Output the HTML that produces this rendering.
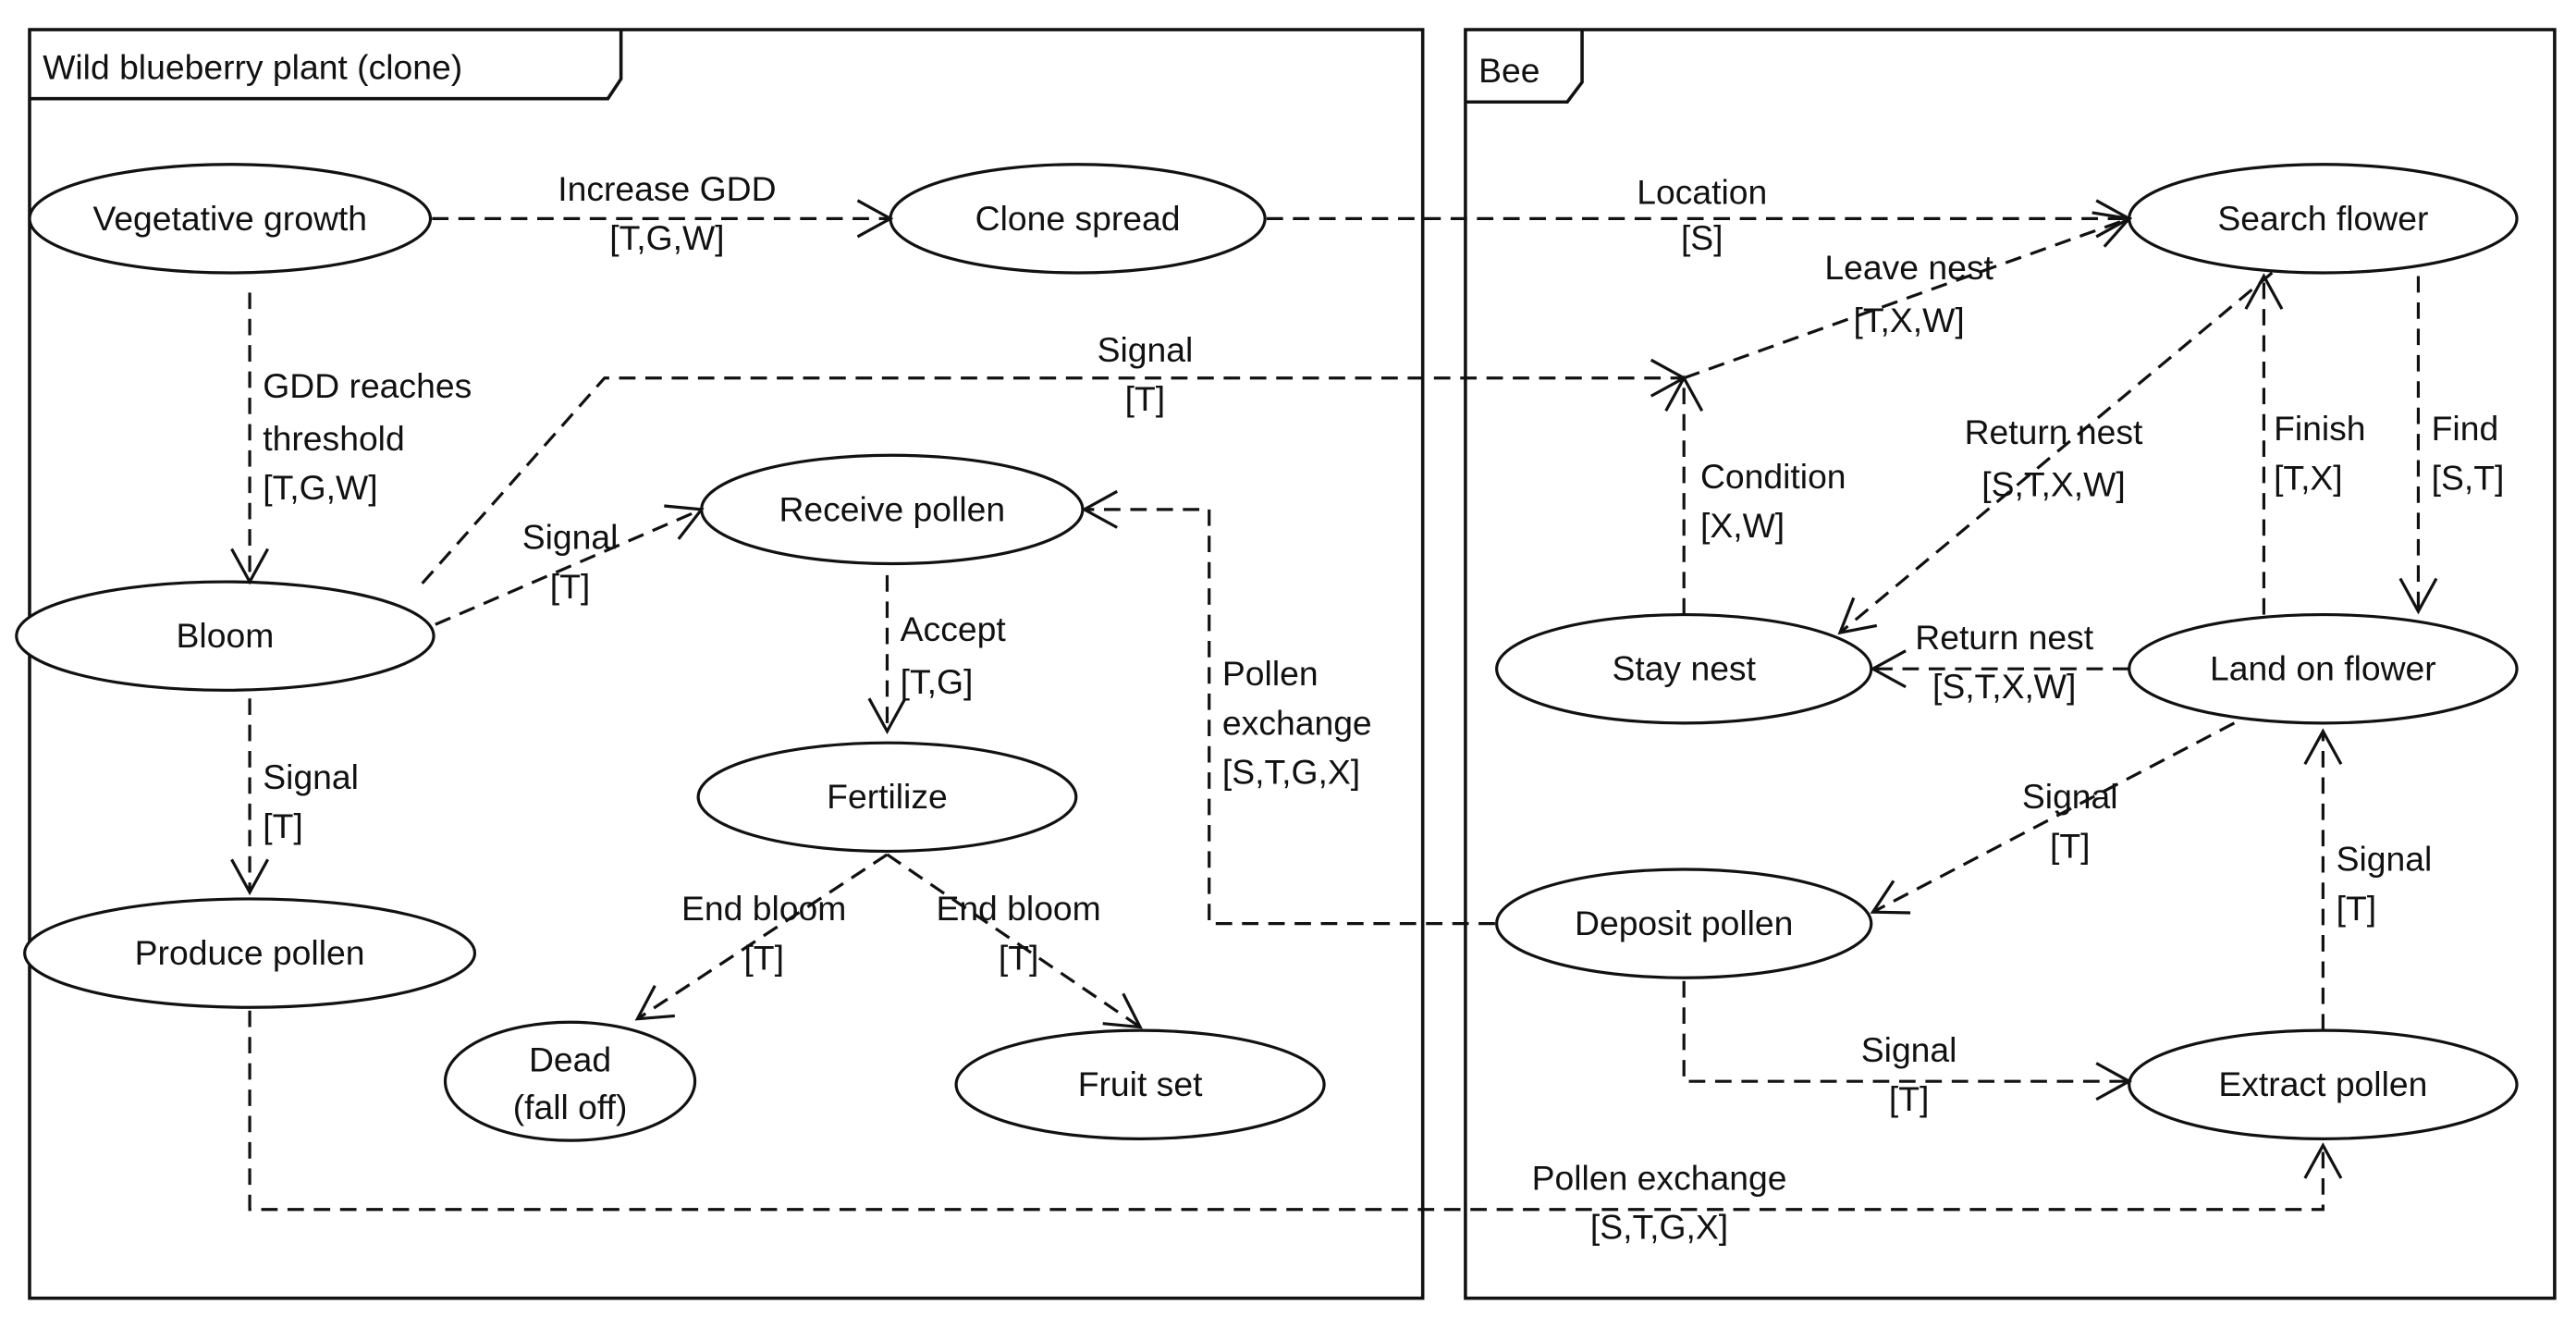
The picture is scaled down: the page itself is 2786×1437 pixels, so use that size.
<!DOCTYPE html>
<html><head><meta charset="utf-8"><style>
html,body{margin:0;padding:0;background:#fff;}
svg{display:block;}
text{font-family:"Liberation Sans",Arial,sans-serif;font-size:21px;fill:#111;}
</style></head><body>
<svg width="2786" height="1437" viewBox="0 0 1568 808.7" xmlns="http://www.w3.org/2000/svg">
<defs>
<marker id="a" markerWidth="30" markerHeight="30" refX="24" refY="15" orient="auto" markerUnits="userSpaceOnUse">
<path d="M4,4 L24,15 L4,26" fill="none" stroke="#111" stroke-width="1.8"/>
</marker>
</defs>
<g fill="none" stroke="#111" stroke-width="2">
<rect x="18" y="18" width="848" height="772"/>
<path d="M18,60 H370 L378,48 V18"/>
<rect x="892" y="18" width="663" height="772"/>
<path d="M892,62 H954 L963,50 V18"/>
</g>
<text x="26" y="48">Wild blueberry plant (clone)</text>
<text x="900" y="50">Bee</text>
<g fill="#fff" stroke="#111" stroke-width="1.8">
<ellipse cx="140" cy="133" rx="122" ry="33"/>
<ellipse cx="656" cy="133" rx="114" ry="33"/>
<ellipse cx="1414" cy="133" rx="118" ry="33"/>
<ellipse cx="137" cy="387" rx="127" ry="33"/>
<ellipse cx="543" cy="310" rx="116" ry="33"/>
<ellipse cx="540" cy="485" rx="115" ry="33"/>
<ellipse cx="152" cy="580" rx="137" ry="33"/>
<ellipse cx="347" cy="658" rx="76" ry="36"/>
<ellipse cx="694" cy="660" rx="112" ry="33"/>
<ellipse cx="1025" cy="407" rx="114" ry="33"/>
<ellipse cx="1414" cy="407" rx="118" ry="33"/>
<ellipse cx="1025" cy="562" rx="114" ry="33"/>
<ellipse cx="1414" cy="660" rx="118" ry="33"/>
</g>
<g text-anchor="middle">
<text x="140" y="140">Vegetative growth</text>
<text x="656" y="140">Clone spread</text>
<text x="1414" y="140">Search flower</text>
<text x="137" y="394">Bloom</text>
<text x="543" y="317">Receive pollen</text>
<text x="540" y="492">Fertilize</text>
<text x="152" y="587">Produce pollen</text>
<text x="347" y="652">Dead</text>
<text x="347" y="681">(fall off)</text>
<text x="694" y="667">Fruit set</text>
<text x="1025" y="414">Stay nest</text>
<text x="1414" y="414">Land on flower</text>
<text x="1025" y="569">Deposit pollen</text>
<text x="1414" y="667">Extract pollen</text>
</g>
<g fill="none" stroke="#111" stroke-width="1.8" stroke-dasharray="10,6">
<path d="M263,133 H542" marker-end="url(#a)"/>
<path d="M771,133 H1296" marker-end="url(#a)"/>
<path d="M152,178 V354" marker-end="url(#a)"/>
<path d="M257,355 L368,230 H1025" marker-end="url(#a)"/>
<path d="M1025,374 V230" marker-end="url(#a)"/>
<path d="M1025,230 L1296,133" marker-end="url(#a)"/>
<path d="M265,380 L427,310" marker-end="url(#a)"/>
<path d="M540,350 V445" marker-end="url(#a)"/>
<path d="M152,425 V543" marker-end="url(#a)"/>
<path d="M540,520 L388,620" marker-end="url(#a)"/>
<path d="M540,520 L694,625" marker-end="url(#a)"/>
<path d="M910,562 H736 V310 H660" marker-end="url(#a)"/>
<path d="M1383,166 L1120,385" marker-end="url(#a)"/>
<path d="M1378,374 V168" marker-end="url(#a)"/>
<path d="M1472,168 V372" marker-end="url(#a)"/>
<path d="M1296,407 H1140" marker-end="url(#a)"/>
<path d="M1360,440 L1140,555" marker-end="url(#a)"/>
<path d="M1414,627 V445" marker-end="url(#a)"/>
<path d="M1025,597 V658 H1296" marker-end="url(#a)"/>
<path d="M152,615 V736 H1414 V697" marker-end="url(#a)"/>
</g>
<g text-anchor="middle">
<text x="406" y="122">Increase GDD</text><text x="406" y="152">[T,G,W]</text>
<text x="1036" y="124">Location</text><text x="1036" y="152">[S]</text>
<text x="697" y="220">Signal</text><text x="697" y="250">[T]</text>
<text x="1162" y="170">Leave nest</text><text x="1162" y="202">[T,X,W]</text>
<text x="347" y="334">Signal</text><text x="347" y="364">[T]</text>
<text x="465" y="560">End bloom</text><text x="465" y="590">[T]</text>
<text x="620" y="560">End bloom</text><text x="620" y="590">[T]</text>
<text x="1250" y="270">Return nest</text><text x="1250" y="302">[S,T,X,W]</text>
<text x="1220" y="395">Return nest</text><text x="1220" y="425">[S,T,X,W]</text>
<text x="1260" y="492">Signal</text><text x="1260" y="522">[T]</text>
<text x="1162" y="646">Signal</text><text x="1162" y="676">[T]</text>
<text x="1010" y="724">Pollen exchange</text><text x="1010" y="754">[S,T,G,X]</text>
</g>
<g>
<text x="160" y="242">GDD reaches</text><text x="160" y="274">threshold</text><text x="160" y="304">[T,G,W]</text>
<text x="1035" y="297">Condition</text><text x="1035" y="327">[X,W]</text>
<text x="548" y="390">Accept</text><text x="548" y="422">[T,G]</text>
<text x="160" y="480">Signal</text><text x="160" y="510">[T]</text>
<text x="744" y="417">Pollen</text><text x="744" y="447">exchange</text><text x="744" y="477">[S,T,G,X]</text>
<text x="1384" y="268">Finish</text><text x="1384" y="298">[T,X]</text>
<text x="1480" y="268">Find</text><text x="1480" y="298">[S,T]</text>
<text x="1422" y="530">Signal</text><text x="1422" y="560">[T]</text>
</g>
</svg>
</body></html>
